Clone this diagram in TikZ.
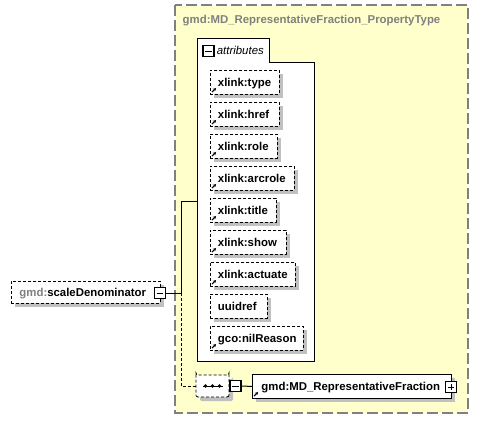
\documentclass[tikz,border=0pt]{standalone}
\usepackage{fontspec}
\setmainfont{Liberation Sans}
\usetikzlibrary{shadows,shapes.misc,arrows.meta}
\definecolor{typebg}{HTML}{FFFFCC}
\definecolor{typeborder}{HTML}{808080}
\definecolor{shade}{HTML}{C0C0C0}
\definecolor{pfx}{HTML}{808080}
\newcommand{\pad}[1]{\hspace*{#1}}
\begin{document}
\begin{tikzpicture}[x=1pt,y=-1pt,
  lbl/.style={font=\fontsize{11.4}{13}\selectfont\bfseries},
  shadowed/.style={drop shadow={shadow xshift=4pt,shadow yshift=-4pt,fill=shade,opacity=1}},
  elembox/.style={draw=black,line width=0.9pt,dash pattern=on 3pt off 2pt,fill=white,
    inner xsep=0pt,inner ysep=0pt,minimum height=24pt,text height=9.5pt,text depth=0.5pt,
    align=left,anchor=north west,lbl,shadowed},
  pm/.style={draw=black,line width=1.2pt,fill=white,minimum size=11pt,inner sep=0pt},
  minusbox/.style={pm,path picture={\draw[line width=1pt]
      ([xshift=2.2pt]path picture bounding box.west) -- ([xshift=-2.2pt]path picture bounding box.east);}},
  plusbox/.style={pm,path picture={\draw[line width=1pt]
      ([xshift=2.2pt]path picture bounding box.west) -- ([xshift=-2.2pt]path picture bounding box.east);
      \draw[line width=1pt]
      ([yshift=-2.2pt]path picture bounding box.north) -- ([yshift=2.2pt]path picture bounding box.south);}},
  seqbox/.style={chamfered rectangle,chamfered rectangle xsep=6pt,chamfered rectangle ysep=6pt,
    rounded corners=2pt,
    draw=black,line width=0.9pt,dash pattern=on 3pt off 2pt,fill=white,
    minimum width=33pt,minimum height=22pt,inner sep=0pt,shadowed},
  conn/.style={draw=black,line width=1pt},
  refarrow/.pic={\draw[line width=1.1pt,-{Stealth[length=3pt,width=3.4pt]}] (2,-2.8) -- (6,-6.8);}
]
\useasboundingbox (0,0) rectangle (486,420);
% complex type container
\draw[draw=typeborder,fill=typebg,line width=1.5pt,dash pattern=on 11pt off 4pt] (175,5) rectangle (468,413);
\node[lbl,text=pfx,anchor=base west,inner sep=0pt] (title) at (182.5,23.5) {gmd:MD\_RepresentativeFraction\_PropertyType};
% attributes group
\node[draw=black,line width=0.9pt,fill=white,anchor=north west,minimum width=117pt,minimum height=299pt,inner sep=0pt] (attrs) at (197,62) {};
\draw[line width=0.9pt,fill=white] (197,62.5) -- (197,38) -- (269,38) -- (269,62.5);
\node[minusbox] (attrm) at (208.5,51) {};
\node[font=\fontsize{11.4}{13}\selectfont\itshape,anchor=base west,inner sep=0pt] (attrlbl) at (216.7,54) {attributes};
% attributes
\node[elembox,text width=69pt] (a1) at (210,70) {\pad{7.5pt}xlink:type};
\node[elembox,text width=69pt] (a2) at (210,102) {\pad{7.5pt}xlink:href};
\node[elembox,text width=67pt] (a3) at (210,134) {\pad{7.5pt}xlink:role};
\node[elembox,text width=84pt] (a4) at (210,166) {\pad{7.5pt}xlink:arcrole};
\node[elembox,text width=66pt] (a5) at (210,198) {\pad{7.5pt}xlink:title};
\node[elembox,text width=76pt] (a6) at (210,230) {\pad{7.5pt}xlink:show};
\node[elembox,text width=85pt] (a7) at (210,262) {\pad{7.5pt}xlink:actuate};
\node[elembox,text width=57pt] (a8) at (210,294) {\pad{7.5pt}uuidref};
\node[elembox,text width=93pt] (a9) at (210,326) {\pad{7.5pt}gco:nilReason};
\foreach \n in {a1,a2,a3,a4,a5,a6,a7,a9} \pic at (\n.south west) {refarrow};
% root element
\node[elembox,text width=149pt,minimum height=22pt] (sd) at (11,281) {\pad{8pt}\textcolor{pfx}{gmd:}scaleDenominator};
% sequence
\node[seqbox] (seq) at (212.5,386) {};
\draw[line width=1pt] ([xshift=-10pt]seq.center) -- ([xshift=10pt]seq.center);
\foreach \dx in {-7,0,7} \fill ([xshift=\dx pt]seq.center) circle (1.8pt);
% child element
\node[elembox,solid,text width=199pt] (rf) at (252,374) {\pad{9pt}gmd:MD\_RepresentativeFraction};
\pic at (rf.south west) {refarrow};
% connectors
\coordinate (j1) at (181,293);
\coordinate (j2) at (181,201);
\coordinate (j3) at (181,386);
\node[minusbox] (sdm) at (160,293) {};
\node[minusbox] (seqm) at (235.5,386) {};
\node[plusbox] (rfp) at (451,387) {};
\draw[conn] (sdm.east) -- (j1) -- (j2) -- (j2 -| attrs.west);
\draw[conn,dash pattern=on 3pt off 2pt] (j1) -- (j3) -- (seq.west);
\draw[conn] (seqm.east) -- (rf.west);
\end{tikzpicture}
\end{document}
